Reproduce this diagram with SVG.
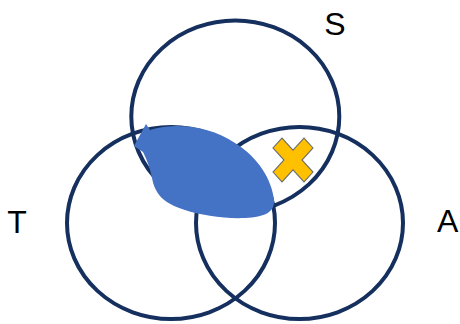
<svg xmlns="http://www.w3.org/2000/svg" width="460" height="324" viewBox="0 0 460 324">
  <style>
    .ring { fill: none; stroke: #15305e; stroke-width: 4; }
    .lbl { font-family: "Liberation Sans", Arial, sans-serif; font-size: 32px; fill: #000; }
  </style>
  <rect width="460" height="324" fill="#fff"/>
  <g id="set-S">
    <ellipse class="ring" cx="235.3" cy="116.5" rx="104" ry="96"/>
    <text class="lbl" x="335" y="34.5" text-anchor="middle">S</text>
  </g>
  <g id="set-T">
    <ellipse class="ring" cx="171" cy="223" rx="104" ry="96"/>
    <text class="lbl" x="17" y="233" text-anchor="middle">T</text>
  </g>
  <g id="set-A">
    <ellipse class="ring" cx="299.5" cy="223" rx="103.5" ry="96"/>
    <text class="lbl" x="437" y="232">A</text>
  </g>
  <g id="shaded-region">
    <path fill="#4472c4" d="M 134,146 L 146,124 L 150,130 C 175,122 210,126 235,143 C 258,157 272,180 274,200 C 275,212 265,217 245,218 C 225,219 200,215 185,210 C 165,204 155,195 152,178 C 150,168 147,160 143,152 Z"/>
  </g>
  <g id="cross-mark">
    <polygon fill="#ffc000" stroke="#6b6b6b" stroke-width="1" stroke-linejoin="miter"
      transform="translate(293,160) scale(1,1.1)"
      points="-20,-11 -11,-20 0,-9 11,-20 20,-11 9,0 20,11 11,20 0,9 -11,20 -20,11 -9,0"/>
  </g>
</svg>
